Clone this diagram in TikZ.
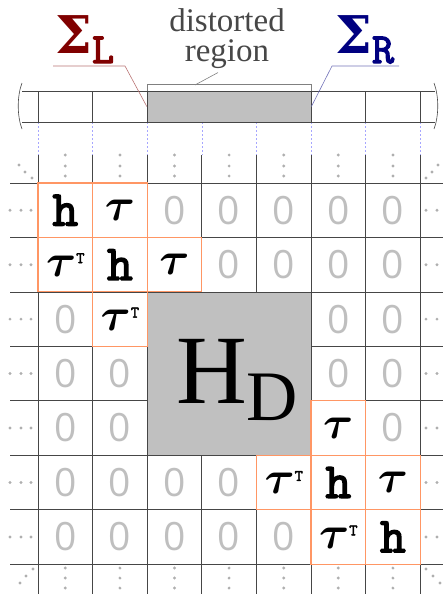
\documentclass[tikz,border=0pt]{standalone}
\usepackage{fix-cm}
\usepackage{amsmath,bm}
\usepackage{fontspec}
\usetikzlibrary{calc}
\newfontfamily\serifb{Liberation Serif}
\newfontfamily\zerof{Open Sans}
\newfontfamily\slabf{DejaVu Serif}
\newfontfamily\tth{Latin Modern Mono}[FakeBold=3]
\definecolor{sigred}{RGB}{128,0,0}
\definecolor{sigblue}{RGB}{0,0,128}
\definecolor{bord}{RGB}{255,150,100}
\definecolor{gridc}{RGB}{70,70,70}
\definecolor{regc}{RGB}{192,192,192}
\definecolor{dotc}{RGB}{175,175,175}
\newcommand{\hh}{{\fontsize{50}{50}\selectfont\tth h}}
\newcommand{\ttau}{$\boldsymbol{\tau}$}
\newcommand{\tT}{$\boldsymbol{\tau}$\raisebox{13pt}{\fontsize{16}{16}\selectfont\tth T}}
\newcommand{\sig}{{\slabf\bfseries Σ}}

\begin{document}
\begin{tikzpicture}[x=1pt,y=-1pt,
gline/.style={gridc,line width=0.8pt},
dashl/.style={draw=blue!35,dash pattern=on 2pt off 2pt,line width=0.6pt},
zero/.style={inner sep=0,text=gray!50,font=\zerof\fontsize{39}{39}\selectfont},
cell/.style={draw=bord,line width=1.1pt,inner sep=0,minimum width=54.6pt,minimum height=54.45pt,font=\fontsize{46}{46}\selectfont},
sigma/.style={anchor=base west,inner sep=0,font=\fontsize{52}{52}\selectfont},
dot/.style={fill=dotc}]
\useasboundingbox (0,0) rectangle (443,594);
% grid of the matrix
\foreach \i in {0,...,7} \draw[gline] (10,{183+54.45*\i}) -- (443,{183+54.45*\i});
\foreach \i in {0,...,7} \draw[gline] ({38+54.6*\i},155) -- ({38+54.6*\i},594);
\foreach \i in {0,...,7} \draw[dashl] ({38+54.6*\i},122) -- ({38+54.6*\i},155);
% chain
\draw[gline] (22,91) -- (435,91); \draw[gline] (22,122) -- (435,122);
\foreach \x in {38,92.6,365.6,420.2} \draw[gline] (\x,91) -- (\x,122);
\draw[gline,line width=0.6pt] (22,83) .. controls (17,96) and (17,116) .. (22,129);
\draw[gline,line width=0.6pt] (434,83) .. controls (439,96) and (439,116) .. (434,129);
\node[fill=regc,draw=gridc,line width=0.8pt,inner sep=0,minimum width=163.8pt,minimum height=31pt] (dreg) at (229.1,106.5) {};
\draw[gray,line width=0.6pt] (dreg.north west) -- ++(0,-6) -| (dreg.north east);
\node[align=center,text=black!72,font=\serifb\fontsize{33}{30}\selectfont] (dlab) at (227,39) {distorted\\region};
\coordinate (dtip) at (195,85);
\draw[gray,line width=0.6pt] (dtip) -- ($(dlab.south)+(-9,0)$);
\node[sigma,text=sigred] (sigL) at (55,53) {\sig\raisebox{-10pt}{\fontsize{43}{43}\selectfont\tth L}};
\node[sigma,text=sigblue] (sigR) at (335,53) {\sig\raisebox{-10pt}{\fontsize{43}{43}\selectfont\tth R}};
\coordinate (lL) at (53,66); \coordinate (lR) at (399,66);
\draw[sigred!55,line width=0.6pt] (lL) -- ++(72,0) -- (dreg.west);
\draw[sigblue!55,line width=0.6pt] (lR) -- ++(-67,0) -- (dreg.east);
% distorted block
\node[fill=regc,draw=gridc,line width=0.8pt,inner sep=0,minimum width=163.8pt,minimum height=163.35pt] (hd) at (229.1,373.6) {};
\node[anchor=base west,inner sep=0,font=\serifb\fontsize{98}{98}\selectfont] (hdl) at (176,403) {H\raisebox{-17pt}{\fontsize{71}{71}\selectfont D}};
% entries
\foreach \r/\c in {1/3,1/4,1/5,1/6,1/7,2/4,2/5,2/6,2/7,3/1,3/6,3/7,4/1,4/2,4/6,4/7,5/1,5/2,5/7,6/1,6/2,6/3,6/4,7/1,7/2,7/3,7/4,7/5}
  \node[zero] (z\r\c) at ({38+54.6*(\c-0.5)},{183+54.45*(\r-0.5)}) {0};
\foreach \r/\c/\t in {1/1/\hh,1/2/\ttau,2/1/\tT,2/2/\hh,2/3/\ttau,3/2/\tT,5/6/\ttau,6/5/\tT,6/6/\hh,6/7/\ttau,7/6/\tT,7/7/\hh}
  \node[cell] (b\r\c) at ({38+54.6*(\c-0.5)},{183+54.45*(\r-0.5)}) {\t};
% dots
\foreach \c in {1,...,7} \foreach \d in {155,166,176,568,578,588} \fill[dot] ({38+54.6*(\c-0.5)},\d) circle (1.6);
\foreach \r in {1,...,7} \foreach \d in {10,21,31,426,437,448} \fill[dot] (\d,{183+54.45*(\r-0.5)}) circle (1.6);
\foreach \p in {(19,165),(25,172),(32,178),(426,178),(432,172),(438,165),(20,583),(26,576),(33,569),(426,569),(433,576),(440,583)} \fill[dot] \p circle (1.6);
\end{tikzpicture}
\end{document}
